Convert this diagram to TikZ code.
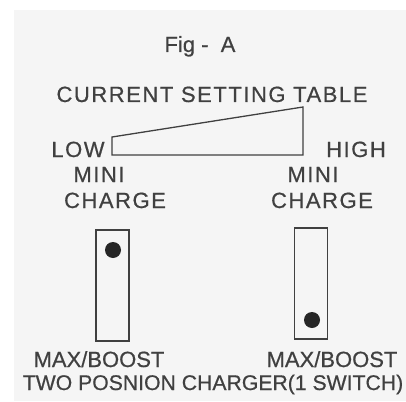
\documentclass[tikz,border=0pt]{standalone}
\usepackage{fontspec}
\setmainfont[FakeBold=0.6]{Liberation Sans}
\newfontfamily\wide[LetterSpace=7,FakeBold=0.6]{Liberation Sans}
\usepackage{tikz}

\begin{document}
\begin{tikzpicture}[x=1pt,y=-1pt,
    lbl/.style={anchor=base, inner sep=0pt, text=black!75, font=\fontsize{22}{26}\selectfont},
    wlbl/.style={lbl, font=\fontsize{22}{26}\selectfont\wide},
    slot/.style={draw=black!75, line width=1.4pt, minimum width=33pt, minimum height=111pt, inner sep=0pt},
    knob/.style={circle, fill=black!85, minimum size=16pt, inner sep=0pt}]
    \useasboundingbox (0,0) rectangle (406,401);
    \fill[white] (0,0) rectangle (406,401);
    \fill[black!4] (14,10) rectangle (406,401);
    \node[lbl] at(200,52)(fig){Fig -\ \ A};
    \node[wlbl] at(212,102)(title){CURRENT SETTING TABLE};
    \node[wlbl] at(78,157)(low){LOW};
    \node[wlbl] at(356,157)(high){HIGH};
    \draw[black!75, line width=1.3pt] (112,137) -- (303,107) -- (303,155) -- (112,155) -- cycle;
    \node[wlbl] at(99,182)(mini1){MINI};
    \node[wlbl] at(115,208)(charge1){CHARGE};
    \node[wlbl] at(313,182)(mini2){MINI};
    \node[wlbl] at(322,208)(charge2){CHARGE};
    \node[slot] at(112.5,285.5)(sw1){};
    \node[slot] at(311,283.5)(sw2){};
    \node[knob] at(113,250)(dot1){};
    \node[knob] at(312,320)(dot2){};
    \node[lbl] at(99,367)(max1){MAX/BOOST};
    \node[lbl] at(332,367)(max2){MAX/BOOST};
    \node[lbl, font=\fontsize{21.2}{25}\selectfont] at(213,390)(caption){TWO POSNION CHARGER(1 SWITCH)};
\end{tikzpicture}
\end{document}
